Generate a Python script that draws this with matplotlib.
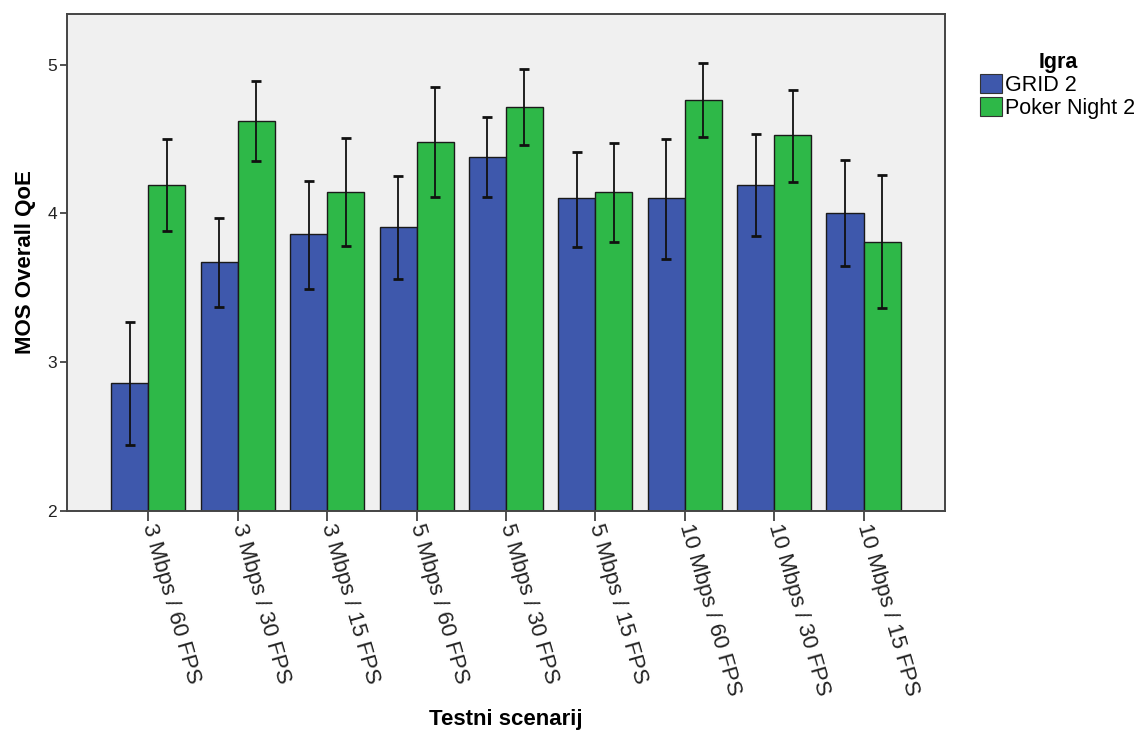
import matplotlib
matplotlib.use("Agg")
import matplotlib.pyplot as plt
import numpy as np
from matplotlib.patches import Patch

categories = ["3 Mbps / 60 FPS", "3 Mbps / 30 FPS", "3 Mbps / 15 FPS",
              "5 Mbps / 60 FPS", "5 Mbps / 30 FPS", "5 Mbps / 15 FPS",
              "10 Mbps / 60 FPS", "10 Mbps / 30 FPS", "10 Mbps / 15 FPS"]
series_names = ["GRID 2", "Poker Night 2"]

grid_mean = [2.86, 3.67, 3.86, 3.905, 4.38, 4.10, 4.10, 4.19, 4.00]
grid_lo = [2.44, 3.37, 3.49, 3.555, 4.11, 3.775, 3.69, 3.85, 3.645]
grid_hi = [3.27, 3.97, 4.22, 4.25, 4.65, 4.41, 4.50, 4.53, 4.355]

poker_mean = [4.19, 4.62, 4.14, 4.48, 4.715, 4.14, 4.76, 4.525, 3.81]
poker_lo = [3.88, 4.35, 3.78, 4.11, 4.46, 3.81, 4.515, 4.21, 3.36]
poker_hi = [4.50, 4.89, 4.505, 4.85, 4.97, 4.475, 5.01, 4.83, 4.255]

y_ticks = [2, 3, 4, 5]

plt.rcParams['font.family'] = ['Liberation Sans', 'DejaVu Sans']

colors = ["#3E58AC", "#2EB848"]
fig = plt.figure(figsize=(11.43, 7.31), dpi=100)
ax = fig.add_axes([0.05836, 0.3014, 0.8268 - 0.05836, 0.9808 - 0.3014])
ax.set_facecolor("#F0F0F0")

x = np.arange(len(categories))
w = 0.414
for i, (m, lo, hi) in enumerate([(grid_mean, grid_lo, grid_hi),
                                  (poker_mean, poker_lo, poker_hi)]):
    m = np.array(m); lo = np.array(lo); hi = np.array(hi)
    pos = x + (i - 0.5) * w
    ax.bar(pos, m - 2, bottom=2, width=w, color=colors[i],
           edgecolor="#1a1a1a", linewidth=1.0, zorder=2)
    ax.errorbar(pos, m, yerr=[m - lo, hi - m], fmt='none', ecolor="#111111",
                elinewidth=1.3, capsize=3.5, capthick=2, zorder=3)

ax.set_xlim(-0.913, 8.912)
ax.set_ylim(2, 5.34)
ax.set_yticks(y_ticks)
ax.set_yticklabels([str(t) for t in y_ticks], fontsize=12.5, color="#222222")
ax.set_xticks(x)
ax.set_xticklabels(categories, rotation=-74, ha='left', va='center',
                   rotation_mode='anchor', fontsize=16, color="#222222")
ax.tick_params(axis='y', direction='out', length=5, width=1.2, color="#333333", pad=2)
ax.tick_params(axis='x', direction='out', length=7, width=1.2, color="#333333", pad=3)
for s in ax.spines.values():
    s.set_color("#444444")
    s.set_linewidth(1.4)

ax.set_ylabel("MOS Overall QoE", fontsize=16, fontweight='bold', labelpad=8)
fig.text(0.4427, 1 - 720 / 731, "Testni scenarij", ha='center', va='center',
         fontsize=16, fontweight='bold')

handles = [Patch(facecolor=colors[i], edgecolor="#333333", linewidth=0.8)
           for i in range(2)]
leg = fig.legend(handles, series_names, title="Igra", loc='upper left',
                 bbox_to_anchor=(0.854, 0.935), frameon=False, fontsize=15.5,
                 title_fontproperties={'weight': 'bold', 'size': 15.5},
                 handlelength=1.0, handleheight=1.0, handletextpad=0.15,
                 labelspacing=0.05, borderaxespad=0, borderpad=0.2)

fig.savefig("out.png", dpi=100)
